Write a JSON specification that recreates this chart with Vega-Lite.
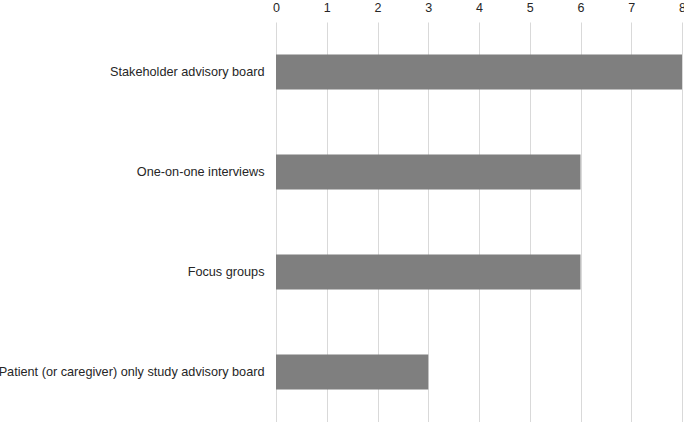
{
  "$schema": "https://vega.github.io/schema/vega-lite/v6.json",
  "autosize": {"type": "none"},
  "padding": {"left": 276, "top": 22, "right": 2, "bottom": 0},
  "width": 406,
  "height": 400,
  "background": "white",
  "data": {"values": [
    {"method": "Stakeholder advisory board", "count": 8},
    {"method": "One-on-one interviews", "count": 6},
    {"method": "Focus groups", "count": 6},
    {"method": "Patient (or caregiver) only study advisory board", "count": 3}
  ]},
  "mark": {"type": "bar", "color": "#7f7f7f"},
  "encoding": {
    "y": {"field": "method", "type": "nominal", "sort": null, "title": null,
      "scale": {"paddingInner": 0.65, "paddingOuter": 0.325},
      "axis": {"domain": false, "ticks": false, "labelPadding": 12, "labelFont": "Liberation Sans", "labelFontSize": 12.7, "labelColor": "#262626", "labelLimit": 0}},
    "x": {"field": "count", "type": "quantitative", "title": null,
      "scale": {"domain": [0, 8], "nice": false},
      "axis": {"orient": "top", "domain": false, "ticks": false, "tickCount": 8, "labelPadding": 8, "labelFont": "Liberation Sans", "labelFontSize": 12.5, "labelColor": "#262626", "gridColor": "#d9d9d9", "labelFlush": false}}
  },
  "config": {"view": {"stroke": null}}
}
